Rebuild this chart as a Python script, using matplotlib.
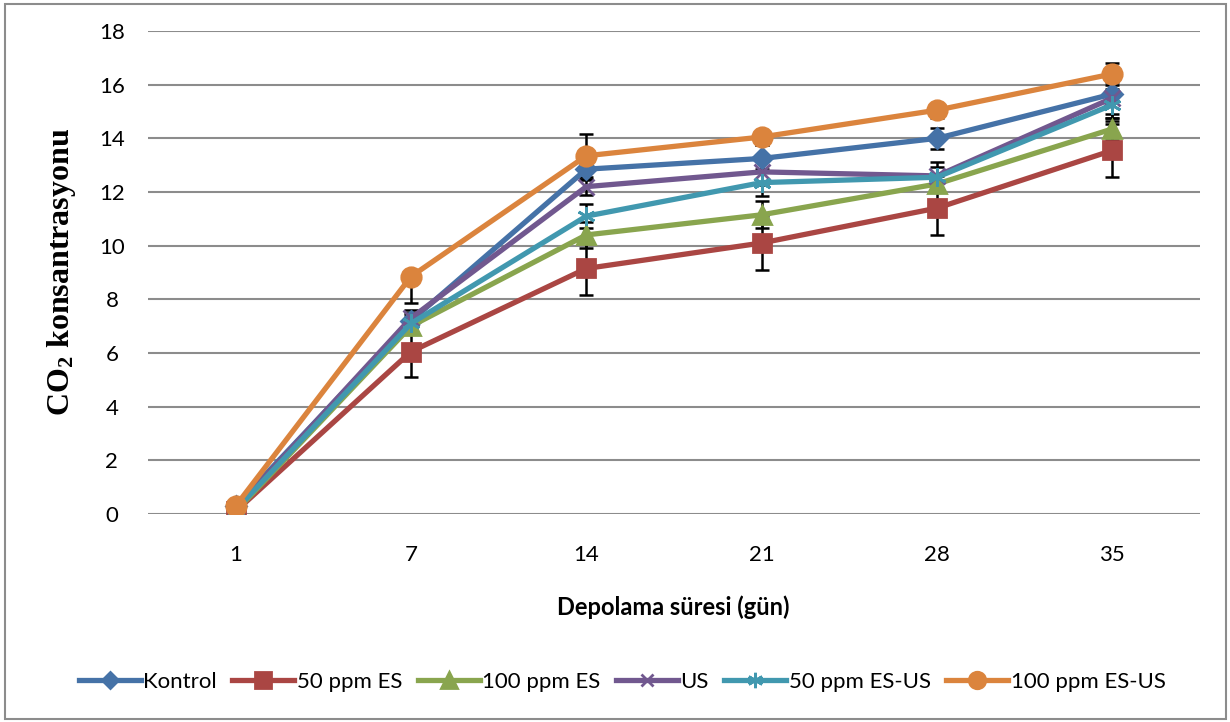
import matplotlib
matplotlib.use("Agg")
import matplotlib.pyplot as plt
from matplotlib.patches import Rectangle

# storage days (categorical axis)
days = ["1", "7", "14", "21", "28", "35"]

kontrol = [0.30, 7.20, 12.85, 13.25, 14.00, 15.65]
es50 = [0.10, 6.05, 9.15, 10.10, 11.40, 13.55]
es100 = [0.10, 7.00, 10.40, 11.15, 12.30, 14.35]
us = [0.20, 7.30, 12.20, 12.75, 12.60, 15.50]
esus50 = [0.15, 7.10, 11.10, 12.35, 12.55, 15.25]
esus100 = [0.30, 8.85, 13.35, 14.05, 15.05, 16.40]

# error bar sizes (estimated), [lower, upper]
kontrol_err = [[0.10, 0.30, 0.40, 0.50, 0.40, 0.90], [0.10, 0.30, 0.40, 0.50, 0.40, 0.90]]
es50_err = [[0.05, 0.95, 1.00, 1.00, 1.00, 1.00], [0.05, 0.95, 1.00, 1.00, 1.00, 1.00]]
es100_err = [[0.05, 0.30, 0.50, 0.50, 0.30, 0.40], [0.05, 0.30, 0.50, 0.50, 0.30, 0.40]]
us_err = [[0.10, 0.30, 0.30, 0.50, 0.50, 0.60], [0.10, 0.30, 0.30, 0.50, 0.50, 0.60]]
esus50_err = [[0.10, 0.30, 0.45, 0.50, 0.40, 0.60], [0.10, 0.30, 0.45, 0.50, 0.40, 0.60]]
esus100_err = [[0.10, 1.00, 0.80, 0.30, 0.30, 0.40], [0.10, 0.00, 0.80, 0.00, 0.00, 0.40]]

series = [
    ("Kontrol", kontrol, kontrol_err, "#4572A7", "D", 10),
    ("50 ppm ES", es50, es50_err, "#AA4643", "s", 13),
    ("100 ppm ES", es100, es100_err, "#89A54E", "^", 13),
    ("US", us, us_err, "#71588F", "x", 11),
    ("50 ppm ES-US", esus50, esus50_err, "#4198AF", (6, 2, 0), 13),
    ("100 ppm ES-US", esus100, esus100_err, "#DB843D", "o", 14),
]

sans = "Lato"
plt.rcParams["mathtext.default"] = "regular"

fig = plt.figure(figsize=(12.3, 7.22), dpi=100)
ax = fig.add_axes([148 / 1230, 1 - 514 / 722, (1200 - 148) / 1230, (514 - 31) / 722])

x = list(range(len(days)))

# error bars first so the lines sit on top
for name, vals, err, color, marker, ms in series:
    ax.errorbar(x, vals, yerr=err, fmt="none", ecolor="black", elinewidth=1.8,
                capsize=5, capthick=1.8, zorder=2)

for name, vals, err, color, marker, ms in series:
    ax.plot(x, vals, color=color, linewidth=3.8, marker=marker, markersize=ms,
            markeredgecolor=color, markeredgewidth=2, label=name, zorder=3)

ax.set_xlim(-0.5, 5.5)
ax.set_ylim(0, 18)
ax.set_yticks(range(0, 19, 2))
ax.set_xticks(x)
ax.set_xticklabels(days)
ax.yaxis.grid(True, color="#8c8c8c", linewidth=1.5)
ax.set_axisbelow(True)
for sp in ax.spines.values():
    sp.set_visible(False)
ax.tick_params(length=0, labelsize=16)
ax.tick_params(axis="y", pad=26)
ax.tick_params(axis="x", pad=22)
for lbl in ax.get_xticklabels() + ax.get_yticklabels():
    lbl.set_fontfamily(sans)
for lbl in ax.get_yticklabels():
    lbl.set_horizontalalignment("center")

fig.text(62 / 1230, 1 - 272 / 722, "CO$_2$ konsantrasyonu", rotation=90,
         ha="center", va="center", fontsize=23, fontweight="bold",
         fontfamily="Liberation Serif")

fig.text(673 / 1230, 1 - 607 / 722, "Depolama süresi (gün)", ha="center",
         va="center", fontsize=17, fontweight="bold", fontfamily=sans)

leg = fig.legend(loc="center", bbox_to_anchor=(622 / 1230, 1 - 682 / 722), ncol=6,
                 frameon=False, prop={"family": sans, "size": 16},
                 handlelength=2.8, handletextpad=0.1, columnspacing=0.7,
                 markerscale=0.85)

fig.add_artist(Rectangle((5 / 1230, 3 / 722), 1221 / 1230, 715 / 722,
                         transform=fig.transFigure, fill=False,
                         edgecolor="#8c8c8c", linewidth=1.5))

fig.savefig("out.png", dpi=100)
